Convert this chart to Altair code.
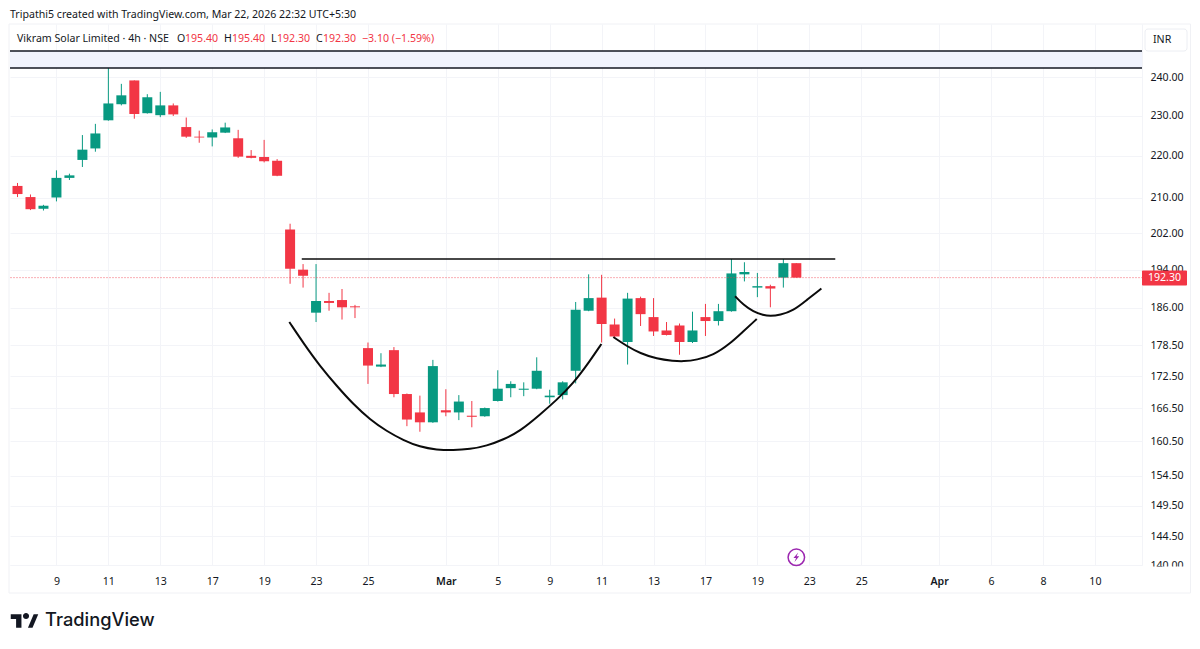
import json
import altair as alt
import pandas as pd

# ---- data ----
opens = [212.8,210.2,207.5,210.1,214.7,219.0,221.8,228.8,232.9,239.1,230.6,230.1,232.6,227.1,224.7,224.5,225.7,224.3,220.0,219.7,218.8,
         202.8,194.0,185.0,187.4,187.6,186.3,177.9,174.3,177.5,169.1,165.7,163.9,166.1,165.7,165.1,165.0,167.8,170.2,169.9,170.1,168.5,168.9,
         173.5,185.4,188.1,182.6,179.1,188.0,184.1,181.4,182.4,179.1,184.1,183.3,185.3,193.0,190.2,190.5,192.3,195.4]
highs = [213.5,210.8,208.4,216.5,215.7,225.1,227.9,243.5,238.2,239.1,235.5,236.1,233.1,229.5,226.2,226.5,228.2,226.4,221.4,223.9,219.2,
         204.1,195.2,195.2,189.1,189.9,186.6,179.0,176.9,178.1,169.2,168.8,175.6,170.0,168.9,167.8,166.6,173.6,171.5,171.3,176.1,169.9,171.5,
         187.2,193.0,192.9,183.8,189.1,188.3,188.0,183.1,182.8,185.2,186.8,186.8,196.3,195.6,193.3,190.8,196.3,195.4]
lows = [210.2,207.2,207.1,209.2,214.2,217.3,221.0,228.7,232.6,229.2,230.5,229.6,229.9,224.4,223.2,222.3,225.6,219.5,219.4,218.4,215.1,
        191.0,190.2,183.1,185.4,183.6,183.9,171.0,174.2,168.5,163.2,162.2,163.8,165.0,164.3,163.0,164.9,167.7,168.5,168.7,170.0,167.3,168.1,
        171.1,185.3,179.0,180.1,174.7,182.3,180.3,180.4,176.6,178.9,180.3,182.4,185.2,191.5,188.2,186.1,190.2,192.3]
closes = [210.9,207.4,208.2,214.7,215.3,221.5,225.5,233.1,235.2,230.4,234.7,232.6,230.3,224.7,224.5,225.8,227.0,219.8,219.5,218.7,215.2,
          194.2,192.7,187.4,187.0,186.1,186.1,174.5,174.7,169.1,164.4,163.9,174.4,165.7,167.7,164.9,166.5,170.1,171.0,170.1,173.5,168.8,171.3,
          185.6,188.0,182.7,180.2,187.9,184.7,181.2,180.5,179.1,181.4,183.3,185.3,193.2,193.5,190.5,190.0,195.4,192.3]

tick_bars = [3,7,11,15,19,23,27,33,37,41,45,49,53,57,61,65,71,75,79,83]
tick_labels = ["9","11","13","17","19","23","25","Mar","5","9","11","13","17","19","23","25","Apr","6","8","10"]
price_ticks = [240,230,220,210,202,194,186,178.5,172.5,166.5,160.5,154.5,149.5,144.5,140]

cup_x = [20.94,22.02,23.3,24.6,25.87,27.16,28.44,29.72,31.0,32.3,33.57,34.86,36.15,37.43,38.71,40.25,41.54,42.82,44.1,44.98]
cup_y = [183.1,178.9,174.4,170.6,167.2,164.4,162.3,160.7,159.5,159.0,158.9,159.1,159.7,160.8,162.3,165.3,168.0,171.1,175.4,178.7]
mid_x = [45.9,46.93,47.96,49.25,50.52,51.3,52.33,53.6,54.9,55.9,56.95]
mid_y = [180.1,178.3,176.9,175.8,175.4,175.3,175.6,176.5,178.8,181.2,183.7]
small_x = [55.28,55.92,56.69,57.46,57.97,58.74,59.77,60.8,61.93]
small_y = [188.4,186.6,185.2,184.5,184.3,184.5,185.4,187.6,190.0]
neck_x = [21.9,63.0]
neck_y = [196.3,196.3]
band_top, band_bottom = 247.0, 242.4
last_price = 192.30

GREEN, RED, INK = "#089981", "#f23645", "#131722"
GRID = "#f3f4f8"
FONT = "Noto Sans"
FS = 10.6
W, H = 1132, 541

df = pd.DataFrame({"i": range(len(opens)), "o": opens, "h": highs, "l": lows, "c": closes})
df["dir"] = ["up" if c >= o else "down" for o, c in zip(opens, closes)]

xs = alt.Scale(domain=[-0.578, 86.63], nice=False, zero=False, padding=0)
ys = alt.Scale(type="log", domain=[140, 254.48], nice=False)
cs = alt.Color("dir:N", scale=alt.Scale(domain=["up", "down"], range=[GREEN, RED]), legend=None)

label_map = json.dumps({str(k): v for k, v in zip(tick_bars, tick_labels)})
x_axis = alt.Axis(values=tick_bars, title=None, ticks=False, domainColor=GRID, gridColor=GRID, grid=True,
                  labelExpr=f"{label_map}[datum.value]", labelOverlap=False, labelFlush=False, labelBound=False,
                  labelFont=FONT, labelFontSize=FS, labelColor=INK, labelPadding=11,
                  labelFontWeight={"expr": "datum.value == 33 || datum.value == 71 ? 600 : 400"})
y_axis = alt.Axis(values=price_ticks, title=None, orient="right", ticks=False, domainColor=GRID, gridColor=GRID, grid=True,
                  format=".2f", labelOverlap=False, labelFlush=False, labelBound=False,
                  labelFont=FONT, labelFontSize=FS, labelColor=INK, labelPadding=8)

X = alt.X("i:Q", scale=xs, axis=x_axis)
Y = alt.Y("l:Q", scale=ys, axis=y_axis)
one = alt.Data(values=[{}])


def xy(x_vals, y_vals):
    return pd.DataFrame({"i": x_vals, "p": y_vals})


def label(text, x, y, color=INK, size=FS, align="left", weight=400, font=FONT):
    return alt.Chart(one).mark_text(text=text, align=align, baseline="middle", font=font, fontSize=size,
                                    fontWeight=weight, color=color, clip=False).encode(
        x=alt.value(x - 10), y=alt.value(y - 24))


def box(x0, x1, y0, y1, **kw):
    return alt.Chart(one).mark_rect(clip=False, **kw).encode(
        x=alt.value(x0 - 10), x2=alt.value(x1 - 10), y=alt.value(y0 - 24), y2=alt.value(y1 - 24))


wicks = alt.Chart(df).mark_rule(strokeWidth=1).encode(x=X, y=Y, y2="h:Q", color=cs)
bodies = alt.Chart(df).mark_bar(size=10, orient="vertical").encode(
    x=alt.X("i:Q", scale=xs), y=alt.Y("o:Q", scale=ys), y2="c:Q", color=cs)

band = alt.Chart(alt.Data(values=[{"a": band_bottom, "b": band_top}])).mark_rect(color="#f0f3fd").encode(
    x=alt.value(0), x2=alt.value(W), y=alt.Y("a:Q", scale=ys), y2="b:Q")
band_lines = alt.Chart(pd.DataFrame({"p": [band_top, band_bottom]})).mark_rule(color=INK, strokeWidth=1.5).encode(
    x=alt.value(0), x2=alt.value(W), y=alt.Y("p:Q", scale=ys))
price_line = alt.Chart(pd.DataFrame({"p": [last_price]})).mark_rule(color=RED, strokeWidth=1, strokeDash=[2, 1], opacity=0.4).encode(
    x=alt.value(0), x2=alt.value(W), y=alt.Y("p:Q", scale=ys))


def curve(x_vals, y_vals, interp="basis", sw=2):
    return alt.Chart(xy(x_vals, y_vals)).mark_line(color="#0b0b0b", strokeWidth=sw, interpolate=interp).encode(
        x=alt.X("i:Q", scale=xs), y=alt.Y("p:Q", scale=ys), order="i:Q")


marker_df = xy([60], [141.2])
ring = alt.Chart(marker_df).mark_point(shape="circle", size=272, filled=False, color="#9c27b0", strokeWidth=1.5, opacity=1).encode(
    x=alt.X("i:Q", scale=xs), y=alt.Y("p:Q", scale=ys))
bolt = alt.Chart(marker_df).mark_point(shape="M0.35 -0.9L-0.55 0.15H-0.05L-0.35 0.9L0.55 -0.2H0.05Z", size=110, filled=True,
                                       color="#9c27b0", opacity=1).encode(
    x=alt.X("i:Q", scale=xs), y=alt.Y("p:Q", scale=ys))

logo_path = ("M-0.222 -0.5H-1V-0.139H-0.611V0.5H-0.222Z"
             "M-0.111 -0.361a0.222 0.222 0 1 0 0.444 0a0.222 0.222 0 1 0 -0.444 0Z"
             "M0.25 0.5L0.667 -0.5H1L0.583 0.5Z")
logo = alt.Chart(one).mark_point(shape=logo_path, size=756, filled=True, color=INK, opacity=1, clip=False).encode(
    x=alt.value(24.5 - 10), y=alt.value(621 - 24))

readout = [("O", 177, INK), ("195.40", 185, RED), ("H", 224, INK), ("195.40", 232, RED), ("L", 271, INK),
           ("192.30", 277, RED), ("C", 316, INK), ("192.30", 323, RED), ("\u22123.10 (\u22121.59%)", 362, RED)]

layers = [
    wicks, bodies, band, band_lines, price_line,
    curve(neck_x, neck_y, "linear", 1.7), curve(cup_x, cup_y), curve(mid_x, mid_y), curve(small_x, small_y),
    ring, bolt,
    box(1144, 1189, 566.5, 575, color="white"),
    box(1142, 1187, 270.5, 285.5, color=RED, cornerRadius=1),
    label("192.30", 1164.5, 278, color="white", align="center"),
    box(1145, 1187, 29, 51, fill="white", stroke="#eceef3", cornerRadius=3),
    label("INR", 1153, 40),
    box(9, 1190.5, 24, 593, fill="transparent", stroke="#f0f1f5"),
    label("Tripathi5 created with TradingView.com, Mar 22, 2026 22:32 UTC+5:30", 10, 15),
    label("Vikram Solar Limited \u00b7 4h \u00b7 NSE", 17, 39),
    logo,
    label("TradingView", 45, 621, size=18.3, weight=500, font="Inter"),
] + [label(t, x, 39, color=c) for t, x, c in readout]

chart = alt.layer(*layers).properties(
    width=W, height=H,
    autosize=alt.AutoSizeParams(type="none"),
    padding={"left": 2, "top": 16, "right": 50, "bottom": 70},
    background="white",
).configure_view(stroke=None)

chart.save("out.html", embed_options={"renderer": "svg", "actions": False})
